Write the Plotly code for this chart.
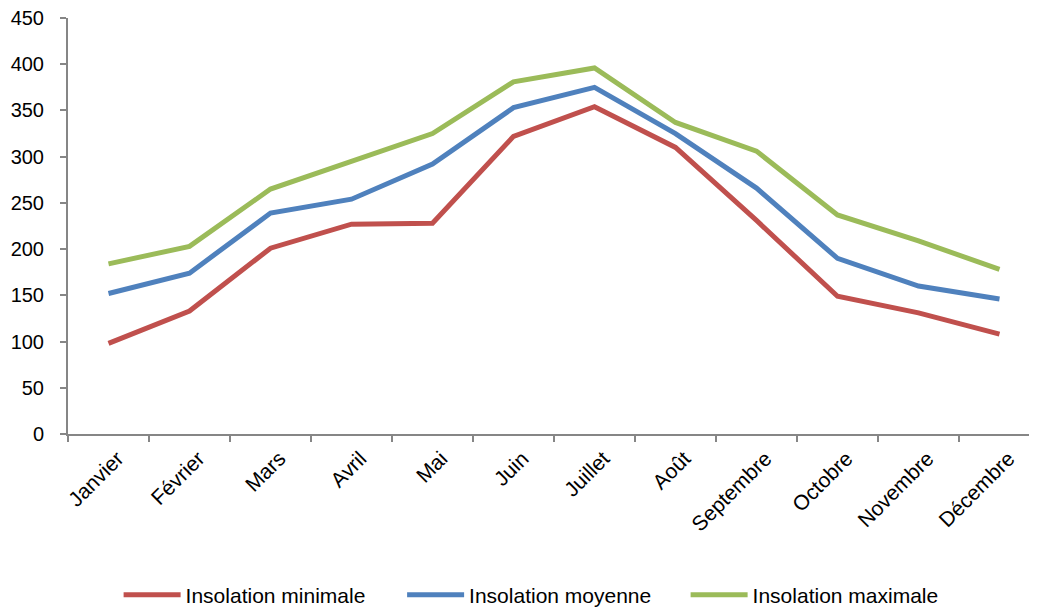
import plotly.graph_objects as go

months = ["Janvier", "Février", "Mars", "Avril", "Mai", "Juin", "Juillet",
          "Août", "Septembre", "Octobre", "Novembre", "Décembre"]
ins_min = [98, 133, 201, 227, 228, 322, 354, 310, 231, 149, 131, 108]
ins_moy = [152, 174, 239, 254, 292, 353, 375, 325, 266, 190, 160, 146]
ins_max = [184, 203, 265, 295, 325, 381, 396, 337, 306, 237, 209, 178]
y_ticks = [0, 50, 100, 150, 200, 250, 300, 350, 400, 450]

series = [
    ("Insolation minimale", ins_min, "#C0504D"),
    ("Insolation moyenne", ins_moy, "#4F81BD"),
    ("Insolation maximale", ins_max, "#9BBB59"),
]

fig = go.Figure()
for name, vals, col in series:
    fig.add_trace(go.Scatter(x=months, y=vals, name=name, mode="lines",
                             line=dict(color=col, width=5)))

axis_col = "#868686"
fig.update_layout(
    width=1029, height=600,
    margin=dict(l=60, r=0, t=10, b=174, autoexpand=False),
    plot_bgcolor="white", paper_bgcolor="white",
    font=dict(family="Liberation Sans, Arial, sans-serif", size=20, color="#000"),
    showlegend=True,
    legend=dict(orientation="h", xref="container", yref="container",
                x=0.521, xanchor="center", y=0.0217, yanchor="middle",
                font=dict(size=21), itemwidth=57, entrywidth=211.5,
                bgcolor="rgba(0,0,0,0)"),
    xaxis=dict(type="category", range=[-0.5, 11.463], showgrid=False,
               showline=True, linecolor=axis_col, linewidth=2,
               ticks="outside", ticklen=6, tickcolor=axis_col, tickwidth=1.5,
               tickson="boundaries", tickangle=-45, tickfont=dict(size=21),
               ticklabelshift=9, ticklabelstandoff=2,
               zeroline=False, automargin=False),
    yaxis=dict(range=[0, 450], tickvals=y_ticks, showgrid=False,
               showline=True, linecolor=axis_col, linewidth=2,
               ticks="outside", ticklen=6, tickcolor=axis_col, tickwidth=1.5,
               tickfont=dict(size=20), ticklabelstandoff=12, zeroline=False,
               ticklabeloverflow="allow", automargin=False),
)

fig.write_html("out.html")
